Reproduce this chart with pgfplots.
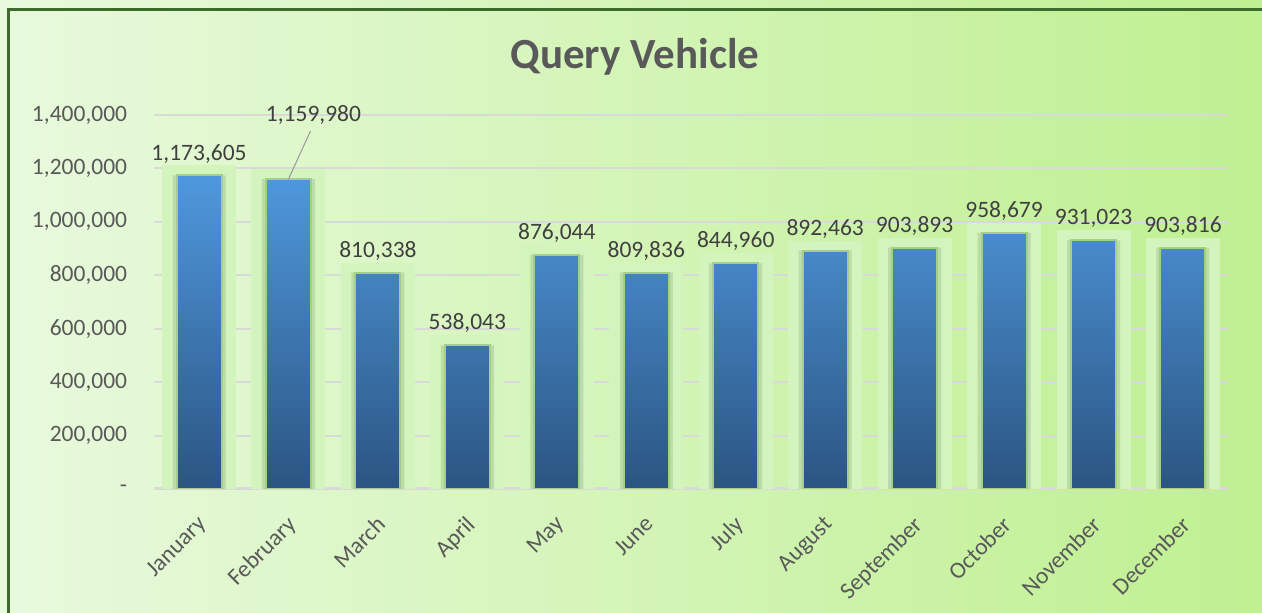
\documentclass[border=0pt]{standalone}
\usepackage{pgfplots}
\pgfplotsset{compat=1.18}
\usepackage{pgfplotstable}
\usepackage{fontspec}
\setmainfont{Carlito}
\definecolor{bgL}{HTML}{E8F9DD}
\definecolor{bgR}{HTML}{BFF091}
\definecolor{frame}{HTML}{3D6B2C}
\definecolor{gridc}{HTML}{D9D9D9}
\definecolor{txt}{HTML}{595959}
\definecolor{lbl}{HTML}{404040}
\definecolor{barT}{HTML}{4F98DD}
\definecolor{barB}{HTML}{2B5582}
\definecolor{barE}{HTML}{A3CF86}
\definecolor{glow}{HTML}{D3F4BD}
\definecolor{shad}{HTML}{A9C79A}

\pgfplotstableread{
x y label dx dy
0 1173605 1,173,605 0 0
1 1159980 1,159,980 25 42
2 810338 810,338 0 0
3 538043 538,043 0 0
4 876044 876,044 0 0
5 809836 809,836 0 0
6 844960 844,960 0 0
7 892463 892,463 0 0
8 903893 903,893 0 0
9 958679 958,679 0 0
10 931023 931,023 0 0
11 903816 903,816 0 0
}\datatable

\begin{document}
\begin{tikzpicture}[x=1pt,y=1pt]
\useasboundingbox (0,0) rectangle (1262,613);
\clip (0,0) rectangle (1262,613);
\shade[left color=bgL, right color=bgR] (0,0) rectangle (1262,613);
\draw[frame, line width=3pt] (8.5,-2) -- (8.5,603.5) -- (1270,603.5);
\node[text=txt, font=\fontsize{43}{50}\selectfont\bfseries] at (635,556) {Query Vehicle};
\begin{axis}[
  at={(154.3pt,124pt)}, anchor=south west,
  scale only axis, width=1073.4pt, height=374pt,
  xmin=-0.5, xmax=11.5, ymin=0, ymax=1400000,
  scaled y ticks=false,
  axis x line*=bottom, axis y line*=left,
  x axis line style={draw=gridc, line width=3pt, -},
  y axis line style={draw=none},
  ymajorgrids, grid style={draw=gridc, line width=2pt},
  major tick length=0pt,
  ytick={0,200000,400000,600000,800000,1000000,1200000,1400000},
  yticklabels={{-},{200,000},{400,000},{600,000},{800,000},{1,000,000},{1,200,000},{1,400,000}},
  xtick={0,...,11},
  xticklabels={January,February,March,April,May,June,July,August,September,October,November,December},
  /pgf/number format/assume math mode=true,
  yticklabel style={text=txt, font=\fontsize{23.5}{28}\selectfont, anchor=east, inner sep=0pt, xshift=-27pt},
  xticklabel style={text=txt, font=\fontsize{23.5}{28}\selectfont, rotate=45, anchor=north east, inner sep=0pt, xshift=-20pt, yshift=-16pt},
  ybar, bar shift=0pt,
]
\addplot[bar width=54pt, fill=glow, draw=glow, line width=20pt] table[x=x,y=y] {\datatable};
\addplot[bar width=53pt, fill=shad, draw=none, fill opacity=0.55] table[x=x,y=y] {\datatable};
\addplot[bar width=45pt, top color=barT, bottom color=barB, draw=barE, line width=2pt,
  point meta=explicit symbolic,
  visualization depends on={\thisrow{dx} \as \dx},
  visualization depends on={\thisrow{dy} \as \dy},
  nodes near coords,
  every node near coord/.append style={text=lbl, font=\fontsize{23.5}{28}\selectfont, anchor=south, yshift=8pt, xshift=\dx pt, yshift=\dy pt},
] table[x=x,y=y,meta=label] {\datatable};
\draw[color=gray!80, line width=1pt] (axis cs:1,1159980) -- ([shift={(22pt,48pt)}]axis cs:1,1159980);
\end{axis}
\end{tikzpicture}
\end{document}
